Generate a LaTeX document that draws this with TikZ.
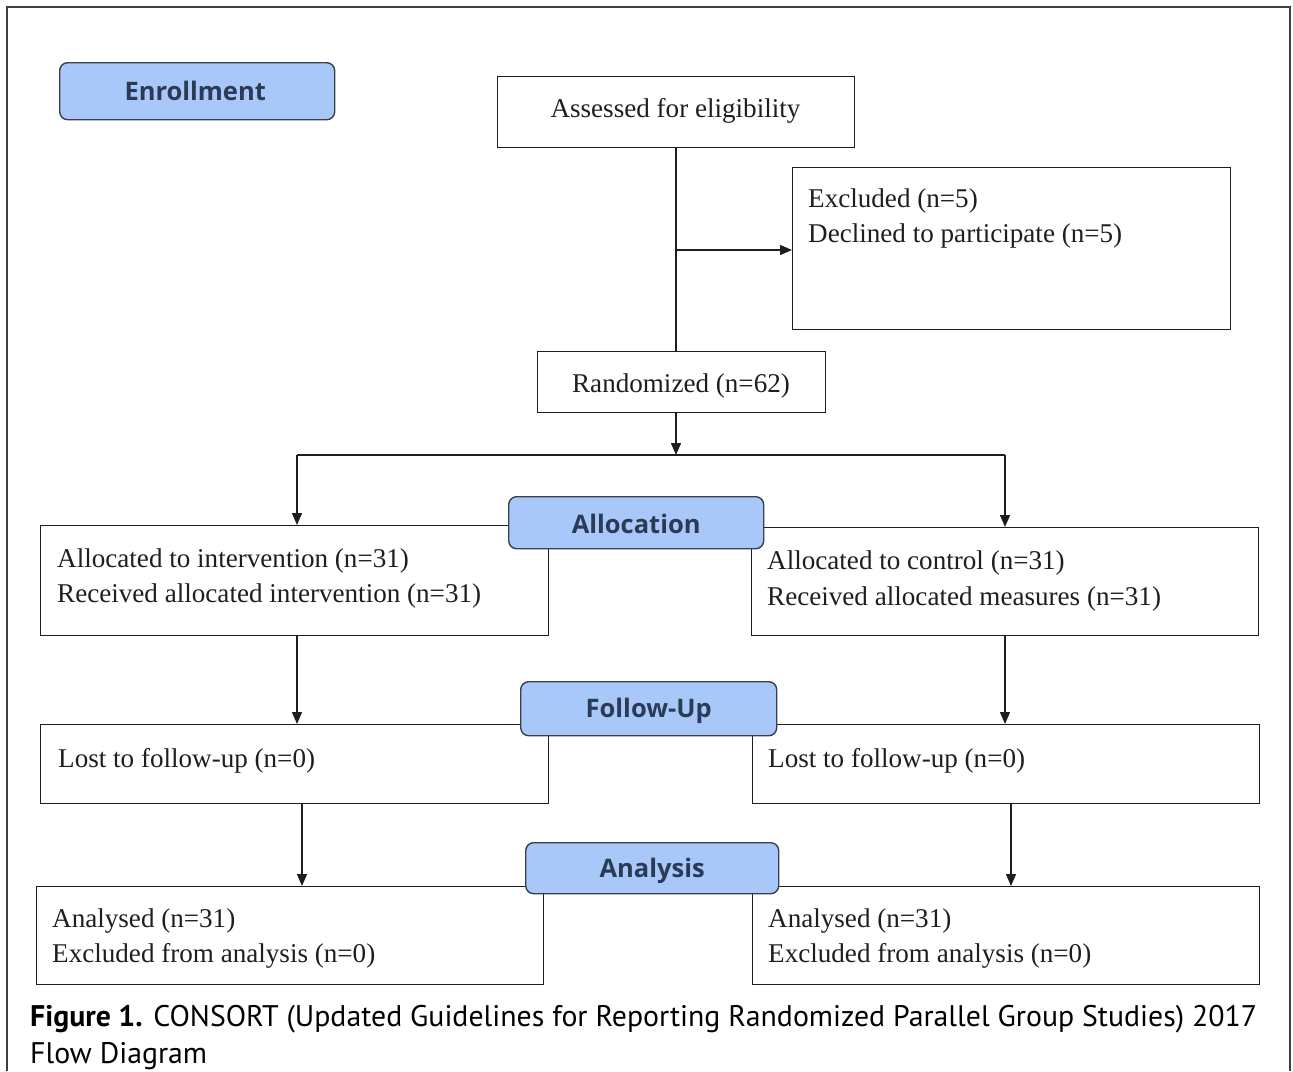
\documentclass[tikz,border=0pt]{standalone}
\usepackage{fontspec}
\setmainfont{Liberation Serif}
\newfontfamily\labfont{Open Sans}
\newfontfamily\capfont{PT Sans}
\usetikzlibrary{arrows.meta}
\definecolor{labfill}{HTML}{A9C8FA}
\definecolor{labtext}{HTML}{2B3A55}
\definecolor{labdraw}{HTML}{3A3F4A}
\definecolor{linecol}{HTML}{1E1E1E}
\tikzset{
  box/.style={draw=linecol, line width=1.4pt, rectangle, inner sep=0pt, anchor=north west},
  lab/.style={draw=labdraw, fill=labfill, line width=1.4pt, rounded corners=8pt, inner sep=0pt, anchor=north west},
  labtxt/.style={font=\labfont\bfseries\fontsize{25.5}{30}\selectfont, text=labtext, inner sep=0pt},
  txt/.style={font=\fontsize{27.1}{35}\selectfont, text=linecol, inner sep=0pt, anchor=base west},
  captxt/.style={font=\capfont\fontsize{29.8}{36}\selectfont, inner sep=0pt, anchor=base west},
  conn/.style={draw=linecol, line width=1.4pt},
  arr/.style={conn, -{Triangle[length=12pt,width=10pt]}}
}
\begin{document}
\begin{tikzpicture}[x=1pt,y=-1pt]
\useasboundingbox (0,0) rectangle (1293,1071);
% outer frame
\draw[draw=labdraw, line width=1.4pt] (7,1071) -- (7,7) -- (1290,7) -- (1290,1071);

% boxes
\node[box, minimum width=357, minimum height=71] (assess) at (497,76) {};
\node[box, minimum width=438, minimum height=162] (excl) at (792,167) {};
\node[box, minimum width=288, minimum height=61] (rand) at (537,351) {};
\node[box, minimum width=508, minimum height=110] (alL) at (40,525) {};
\node[box, minimum width=507, minimum height=108] (alR) at (751,527) {};
\node[box, minimum width=508, minimum height=79] (fuL) at (40,724) {};
\node[box, minimum width=507, minimum height=79] (fuR) at (752,724) {};
\node[box, minimum width=507, minimum height=98] (anL) at (36,886) {};
\node[box, minimum width=507, minimum height=98] (anR) at (752,886) {};

% box texts
\node[txt, anchor=base] (tassess) at (675.5,117) {Assessed for eligibility};
\node[txt] (texcl1) at (808,207) {Excluded (n=5)};
\node[txt] (texcl2) at (808,242) {Declined to participate (n=5)};
\node[txt, anchor=base] (trand) at (681,392) {Randomized (n=62)};
\node[txt] (talL1) at (57,567) {Allocated to intervention (n=31)};
\node[txt] (talL2) at (57,602) {Received allocated intervention (n=31)};
\node[txt] (talR1) at (767,569) {Allocated to control (n=31)};
\node[txt] (talR2) at (767,605) {Received allocated measures (n=31)};
\node[txt] (tfuL) at (58,767) {Lost to follow-up (n=0)};
\node[txt] (tfuR) at (768,767) {Lost to follow-up (n=0)};
\node[txt] (tanL1) at (52,927) {Analysed (n=31)};
\node[txt] (tanL2) at (52,962) {Excluded from analysis (n=0)};
\node[txt] (tanR1) at (768,927) {Analysed (n=31)};
\node[txt] (tanR2) at (768,962) {Excluded from analysis (n=0)};

% connector coordinates
\coordinate (mid) at (676,250);
\coordinate (split) at (676,455);
\coordinate (cL) at (297,455);
\coordinate (cR) at (1005,455);
\coordinate (dL) at (302,803);
\coordinate (dR) at (1011,803);

% connectors
\draw[conn] (mid |- assess.south) -- (mid |- rand.north);
\draw[arr] (mid) -- (mid -| excl.west);
\draw[arr] (split |- rand.south) -- (split);
\draw[conn] (cL) -- (cR);
\draw[arr] (cL) -- (cL |- alL.north);
\draw[arr] (cR) -- (cR |- alR.north);
\draw[arr] (cL |- alL.south) -- (cL |- fuL.north);
\draw[arr] (cR |- alR.south) -- (cR |- fuR.north);
\draw[arr] (dL |- fuL.south) -- (dL |- anL.north);
\draw[arr] (dR |- fuR.south) -- (dR |- anR.north);

% stage labels
\node[lab, minimum width=275, minimum height=57] (enr) at (59,62) {};
\node[labtxt] at ([xshift=-2pt]enr.center) {Enrollment};
\node[lab, minimum width=255, minimum height=52] (alloc) at (508,496) {};
\node[labtxt] at ([yshift=-1pt]alloc.center) {Allocation};
\node[lab, minimum width=256, minimum height=54] (fu) at (520,681) {};
\node[labtxt] at ([yshift=-2pt]fu.center) {Follow-Up};
\node[lab, minimum width=253, minimum height=51] (ana) at (525,842) {};
\node[labtxt] at ([yshift=-3pt]ana.center) {Analysis};

% caption
\node[captxt] (cap1) at (30,1026) {\textbf{Figure 1.} CONSORT (Updated Guidelines for Reporting Randomized Parallel Group Studies) 2017};
\node[captxt] (cap2) at (30,1063) {Flow Diagram};
\end{tikzpicture}
\end{document}
